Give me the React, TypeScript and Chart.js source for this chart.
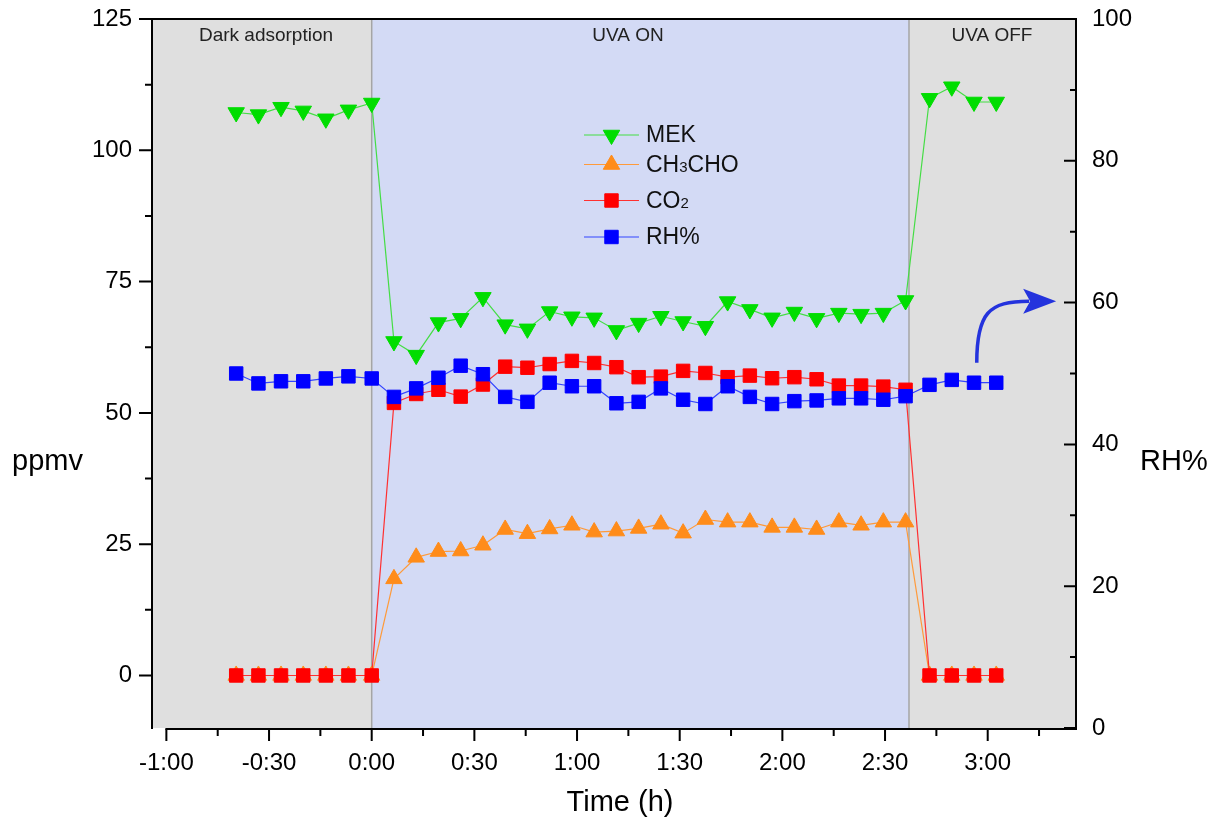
import React, { useEffect, useRef } from 'react';
import { Chart, registerables } from 'chart.js';
import { drawPoint } from 'chart.js/helpers';

Chart.register(...registerables);

// ---- data ----
const timeMin = [
  -39.6, -33.1, -26.5, -20, -13.4, -6.8, 0,
  6.5, 13, 19.5, 26, 32.5, 39, 45.5, 52, 58.5, 65, 71.5, 78, 84.5, 91, 97.5, 104, 110.5, 117, 123.5, 130, 136.5, 143, 149.5, 156,
  163, 169.5, 176, 182.5,
];
const mek = [
  107.2, 106.8, 108.2, 107.5, 106.0, 107.7, 109.0,
  63.6, 61.0, 67.2, 68.0, 72.0, 66.8, 66.0, 69.3, 68.3, 68.1, 65.7, 67.1, 68.4, 67.4, 66.5, 71.2, 69.7, 68.1, 69.2, 68.0, 69.0, 68.8, 69.0, 71.4,
  109.9, 112.1, 109.2, 109.2,
];
const ch3cho = [
  0, 0, 0, 0, 0, 0, 0,
  18.4, 22.5, 23.6, 23.7, 24.8, 27.8, 27.0, 27.9, 28.6, 27.3, 27.5, 28.0, 28.8, 27.1, 29.7, 29.2, 29.2, 28.2, 28.2, 27.8, 29.2, 28.6, 29.2, 29.2,
  0, 0, 0, 0,
];
const co2 = [
  0, 0, 0, 0, 0, 0, 0,
  51.9, 53.6, 54.4, 53.1, 55.4, 58.8, 58.6, 59.3, 59.9, 59.5, 58.7, 56.8, 56.9, 58.0, 57.6, 56.8, 57.1, 56.6, 56.8, 56.4, 55.2, 55.2, 55.0, 54.4,
  0, 0, 0, 0,
];
const rh = [
  50.0, 48.6, 48.9, 48.9, 49.3, 49.6, 49.3,
  46.7, 47.9, 49.4, 51.1, 49.9, 46.7, 46.0, 48.7, 48.2, 48.2, 45.8, 46.0, 47.9, 46.3, 45.7, 48.2, 46.7, 45.7, 46.1, 46.2, 46.5, 46.5, 46.3, 46.8,
  48.4, 49.1, 48.7, 48.7,
];

const seriesLabels = ['MEK', 'CH₃CHO', 'CO₂', 'RH%'];
const xTickValues = [-60, -45, -30, -15, 0, 15, 30, 45, 60, 75, 90, 105, 120, 135, 150, 165, 180, 195];
const leftTickValues = [0, 12.5, 25, 37.5, 50, 62.5, 75, 87.5, 100, 112.5, 125];
const rightTickValues = [0, 10, 20, 30, 40, 50, 60, 70, 80, 90, 100];
const regionNames = ['Dark adsorption', 'UVA ON', 'UVA OFF'];
const regionBounds = [-64.2, 0, 157, 205.8];

const FONT = '"Liberation Sans", Arial, Helvetica, sans-serif';
const GRAY = '#DFDFDF';
const BLUE_BG = '#D3DAF5';

function fmtTime(v: number): string {
  const sign = v < 0 ? '-' : '';
  const a = Math.abs(v);
  const h = Math.floor(a / 60);
  const m = Math.round(a % 60);
  return `${sign}${h}:${String(m).padStart(2, '0')}`;
}

const SUBS = '₀₁₂₃₄₅₆₇₈₉';

function drawRichText(ctx: CanvasRenderingContext2D, text: string, x: number, y: number, size: number) {
  let cx = x;
  for (const ch of text) {
    const si = SUBS.indexOf(ch);
    if (si >= 0) {
      ctx.font = `${Math.round(size * 0.65)}px ${FONT}`;
      ctx.fillText(String(si), cx, y + 2);
      cx += ctx.measureText(String(si)).width;
    } else {
      ctx.font = `${size}px ${FONT}`;
      ctx.fillText(ch, cx, y);
      cx += ctx.measureText(ch).width;
    }
  }
}

const zeroPad = (s: any) => {
  s.paddingTop = 0;
  s.paddingBottom = 0;
  s.paddingLeft = 0;
  s.paddingRight = 0;
};

const decorPlugin = {
  id: 'decor',
  beforeDatasetsDraw(chart: any) {
    const { ctx, chartArea: a, scales } = chart;
    const xs = scales.x;
    ctx.save();
    const colors = [GRAY, BLUE_BG, GRAY];
    for (let i = 0; i < 3; i++) {
      const x0 = Math.max(a.left, xs.getPixelForValue(regionBounds[i]));
      const x1 = Math.min(a.right, xs.getPixelForValue(regionBounds[i + 1]));
      ctx.fillStyle = colors[i];
      ctx.fillRect(x0, a.top, x1 - x0, a.bottom - a.top);
    }
    ctx.strokeStyle = '#A5A5A5';
    ctx.lineWidth = 1.5;
    for (const b of [regionBounds[1], regionBounds[2]]) {
      const px = xs.getPixelForValue(b);
      ctx.beginPath();
      ctx.moveTo(px, a.top);
      ctx.lineTo(px, a.bottom);
      ctx.stroke();
    }
    // region labels
    ctx.fillStyle = '#222';
    ctx.font = `19px ${FONT}`;
    ctx.textAlign = 'center';
    ctx.textBaseline = 'middle';
    const centers = [266, 628, 992];
    regionNames.forEach((n, i) => ctx.fillText(n, centers[i], a.top + 17));
    ctx.restore();
  },
  afterDraw(chart: any) {
    const { ctx, chartArea: a, scales } = chart;
    const xs = scales.x;
    const yl = scales.y;
    const yr = scales.y1;
    ctx.save();
    ctx.strokeStyle = '#000';
    ctx.lineWidth = 2;
    ctx.lineCap = 'butt';
    // frame
    ctx.beginPath();
    ctx.moveTo(a.left, a.top);
    ctx.lineTo(a.right, a.top);
    ctx.moveTo(a.left, a.top - 1);
    ctx.lineTo(a.left, a.bottom + 1);
    ctx.moveTo(a.right, a.top - 1);
    ctx.lineTo(a.right, a.bottom + 1);
    ctx.moveTo(xs.getPixelForValue(xTickValues[0]) - 1, a.bottom + 1);
    ctx.lineTo(a.right + 1, a.bottom + 1);
    ctx.stroke();
    // x ticks (outward)
    ctx.beginPath();
    for (const v of xTickValues) {
      const px = xs.getPixelForValue(v);
      const len = v % 30 === 0 ? 12 : 7;
      ctx.moveTo(px, a.bottom + 1);
      ctx.lineTo(px, a.bottom + 1 + len);
    }
    // left ticks (outward)
    for (const v of leftTickValues) {
      const py = yl.getPixelForValue(v);
      const len = v % 25 === 0 ? 13 : 7;
      ctx.moveTo(a.left, py);
      ctx.lineTo(a.left - len, py);
    }
    // right ticks (inward)
    for (const v of rightTickValues) {
      const py = yr.getPixelForValue(v);
      const len = v % 20 === 0 ? 12 : 6;
      ctx.moveTo(a.right, py);
      ctx.lineTo(a.right - len, py);
    }
    ctx.stroke();

    // axis titles
    ctx.fillStyle = '#000';
    ctx.textBaseline = 'middle';
    ctx.font = `29px ${FONT}`;
    ctx.textAlign = 'left';
    ctx.fillText('ppmv', 12, 462);
    ctx.fillText('RH%', 1140, 462);
    ctx.textAlign = 'center';
    ctx.fillText('Time (h)', 620, 803);

    // legend
    const rowsY = [135, 164.5, 200.5, 237];
    ctx.textAlign = 'left';
    ctx.textBaseline = 'middle';
    chart.data.datasets.forEach((ds: any, i: number) => {
      const y = rowsY[i];
      ctx.strokeStyle = ds.borderColor;
      ctx.lineWidth = 1.2;
      ctx.beginPath();
      ctx.moveTo(584, y);
      ctx.lineTo(639, y);
      ctx.stroke();
      ctx.fillStyle = ds.pointBackgroundColor;
      ctx.strokeStyle = ds.pointBorderColor;
      ctx.lineWidth = 1;
      drawPoint(ctx, { pointStyle: ds.pointStyle, rotation: ds.pointRotation || 0, radius: ds.pointRadius, borderWidth: 1 }, 611.5, y);
      ctx.fillStyle = '#111';
      ctx.textBaseline = 'middle';
      drawRichText(ctx, ds.label, 646, y + 1, 23);
    });

    // curved arrow pointing to RH axis
    const sx = xs.getPixelForValue(176.8);
    const sy = yr.getPixelForValue(51.5);
    const tx = xs.getPixelForValue(200);
    const ty = yr.getPixelForValue(60.2);
    const bx = tx - 33;
    ctx.strokeStyle = '#2433DD';
    ctx.fillStyle = '#2433DD';
    ctx.lineWidth = 3.5;
    ctx.beginPath();
    ctx.moveTo(sx, sy);
    ctx.bezierCurveTo(sx, sy - 0.8 * (sy - ty), sx + 0.25 * (bx - sx), ty, bx + 6, ty);
    ctx.stroke();
    ctx.beginPath();
    ctx.moveTo(tx, ty);
    ctx.lineTo(bx, ty - 12.5);
    ctx.lineTo(bx + 7, ty);
    ctx.lineTo(bx, ty + 12.5);
    ctx.closePath();
    ctx.fill();
    ctx.restore();
  },
};

export default function App() {
  const ref = useRef<HTMLCanvasElement | null>(null);
  useEffect(() => {
    if (!ref.current) return;
    const mk = (vals: number[]) => timeMin.map((t, i) => ({ x: t, y: vals[i] }));
    const chart = new Chart(ref.current, {
      type: 'line',
      data: {
        datasets: [
          {
            label: seriesLabels[0], data: mk(mek), yAxisID: 'y', order: 4,
            borderColor: '#44DD44', borderWidth: 1.2,
            pointStyle: 'triangle', pointRotation: 180, pointRadius: 9.5,
            pointBackgroundColor: '#00DD00', pointBorderColor: '#00DD00', pointBorderWidth: 1,
          },
          {
            label: seriesLabels[1], data: mk(ch3cho), yAxisID: 'y', order: 3,
            borderColor: '#FF9A3A', borderWidth: 1.2,
            pointStyle: 'triangle', pointRotation: 0, pointRadius: 9.5,
            pointBackgroundColor: '#FF8C1A', pointBorderColor: '#FF8C1A', pointBorderWidth: 1,
          },
          {
            label: seriesLabels[2], data: mk(co2), yAxisID: 'y', order: 2,
            borderColor: '#FF3030', borderWidth: 1.2,
            pointStyle: 'rect', pointRotation: 0, pointRadius: 9.5,
            pointBackgroundColor: '#FF0000', pointBorderColor: '#FF0000', pointBorderWidth: 1,
          },
          {
            label: seriesLabels[3], data: mk(rh), yAxisID: 'y1', order: 1,
            borderColor: '#3344FF', borderWidth: 1.2,
            pointStyle: 'rect', pointRotation: 0, pointRadius: 9.5,
            pointBackgroundColor: '#0000FF', pointBorderColor: '#0000FF', pointBorderWidth: 1,
          },
        ] as any,
      },
      options: {
        responsive: false,
        animation: false,
        events: [],
        layout: { padding: { top: 19, left: 0, right: 0, bottom: 0 } },
        plugins: { legend: { display: false }, tooltip: { enabled: false }, title: { display: false } },
        elements: { line: { tension: 0 } },
        scales: {
          x: {
            type: 'linear',
            min: regionBounds[0],
            max: regionBounds[3],
            afterBuildTicks: (s: any) => { s.ticks = xTickValues.map((v) => ({ value: v })); },
            afterFit: (s: any) => { s.height = 99; zeroPad(s); },
            ticks: {
              autoSkip: false, maxRotation: 0, minRotation: 0, padding: 21, color: '#000',
              font: { family: FONT, size: 24 },
              callback: (v: any) => (Number(v) % 30 === 0 ? fmtTime(Number(v)) : ''),
            },
            grid: { display: false, drawTicks: false },
            border: { display: false },
          },
          y: {
            type: 'linear', position: 'left', min: -10, max: 125,
            afterBuildTicks: (s: any) => { s.ticks = leftTickValues.map((v) => ({ value: v })); },
            afterFit: (s: any) => { s.width = 152; zeroPad(s); },
            ticks: {
              autoSkip: false, padding: 20, color: '#000',
              font: { family: FONT, size: 24 },
              callback: (v: any) => (Number(v) % 25 === 0 ? String(v) : ''),
            },
            grid: { display: false, drawTicks: false },
            border: { display: false },
          },
          y1: {
            type: 'linear', position: 'right', min: 0, max: 100,
            afterBuildTicks: (s: any) => { s.ticks = rightTickValues.map((v) => ({ value: v })); },
            afterFit: (s: any) => { s.width = 151; zeroPad(s); },
            ticks: {
              autoSkip: false, padding: 16, color: '#000',
              font: { family: FONT, size: 24 },
              callback: (v: any) => (Number(v) % 20 === 0 ? String(v) : ''),
            },
            grid: { display: false, drawTicks: false },
            border: { display: false },
          },
        },
      } as any,
      plugins: [decorPlugin],
    });
    return () => chart.destroy();
  }, []);
  return (
    <div style={{ position: 'absolute', left: 0, top: 0, width: '1227px', height: '827px', background: '#fff' }}>
      <canvas ref={ref} width={1227} height={827} />
    </div>
  );
}
